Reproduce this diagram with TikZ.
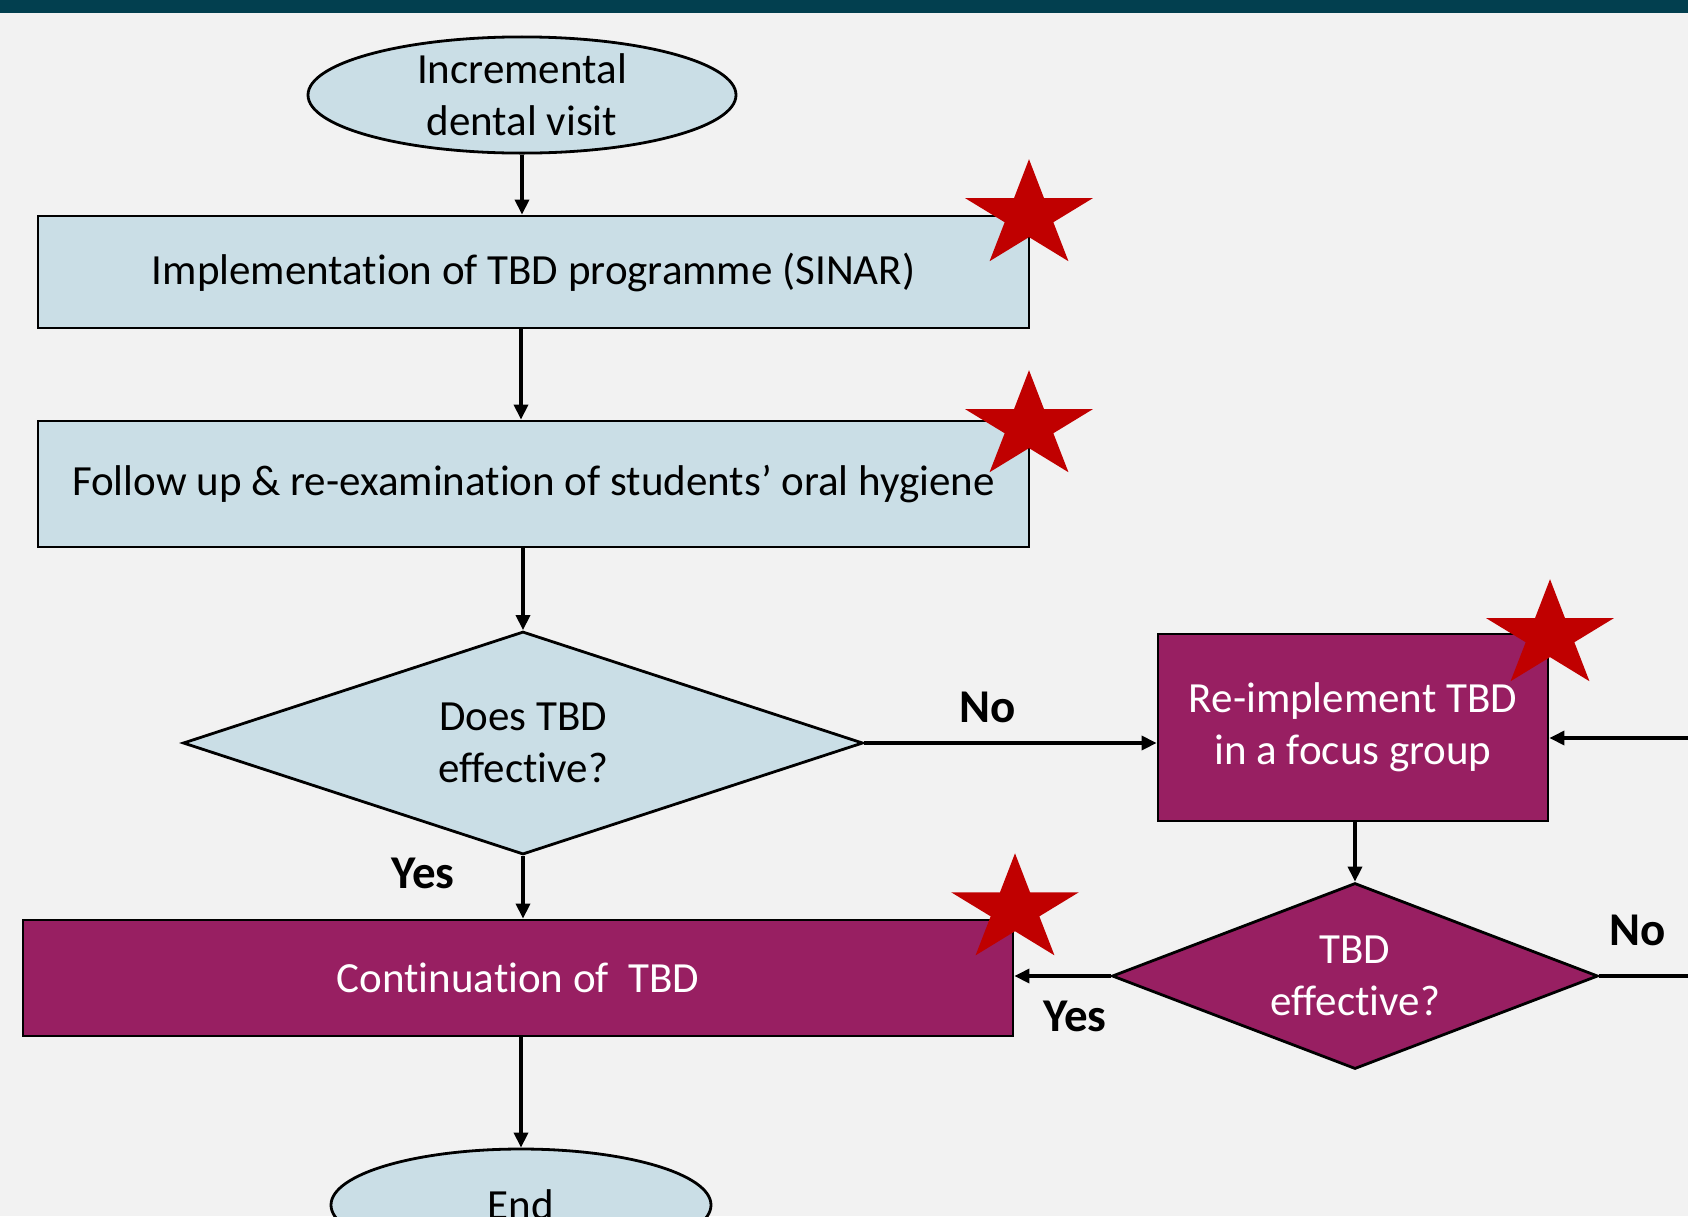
\documentclass[tikz,border=0pt]{standalone}
\usepackage{fontspec}
\setmainfont{Carlito}[Ligatures=NoCommon]
\usetikzlibrary{shapes.geometric,arrows.meta}
\definecolor{bgc}{HTML}{F2F2F2}
\definecolor{barc}{HTML}{023F4F}
\definecolor{lblue}{HTML}{CADEE6}
\definecolor{purp}{HTML}{981F62}
\definecolor{starred}{HTML}{C00000}
\newcommand{\redstar}[1]{%
  \begin{scope}[shift={#1},xscale=1.19]
    \fill[starred] (270:56.4) -- (306:21.5) -- (342:56.4) -- (18:21.5) -- (54:56.4) -- (90:21.5) -- (126:56.4) -- (162:21.5) -- (198:56.4) -- (234:21.5) -- cycle;
  \end{scope}}
\begin{document}
\begin{tikzpicture}[x=1pt,y=-1pt,
  font=\fontsize{43}{52}\selectfont,
  box/.style={draw=black,line width=2.8pt,inner sep=0pt,align=center},
  lbox/.style={box,rectangle,fill=lblue},
  pbox/.style={box,rectangle,fill=purp,text=white},
  lell/.style={box,ellipse,fill=lblue},
  ldia/.style={box,diamond,fill=lblue},
  pdia/.style={box,diamond,fill=purp,text=white},
  arr/.style={-{Triangle[length=15pt,width=14pt]},line width=3.4pt},
  ln/.style={line width=3.4pt},
  lab/.style={font=\fontsize{47}{52}\selectfont\bfseries}]
\useasboundingbox (0,0) rectangle (1688,1216);
\clip (0,0) rectangle (1688,1216);
\fill[bgc] (0,0) rectangle (1688,1216);
\fill[barc] (0,0) rectangle (1688,13);

\node[lell,minimum width=428pt,minimum height=112pt] (e1) at (522,95) {Incremental\\dental visit};
\node[lbox,minimum width=991pt,minimum height=112pt] (b1) at (533.5,272) {Implementation of TBD programme (SINAR)};
\node[lbox,minimum width=991pt,minimum height=126pt] (b2) at (533.5,484) {Follow up \& re-examination of students’ oral hygiene};
\node[ldia,minimum width=680pt,minimum height=223pt,aspect=3.05] (d1) at (523,743) {Does TBD\\effective?};
\node[pbox,minimum width=390pt,minimum height=187pt] (b3) at (1353,727.5) {Re-implement TBD\\in a focus group};
\node[pdia,minimum width=486pt,minimum height=186pt,aspect=2.6] (d2) at (1355,976) {TBD\\effective?};
\node[pbox,minimum width=990pt,minimum height=116pt] (b4) at (518,978) {Continuation of\ \ TBD};
\node[lell,minimum width=380pt,minimum height=112pt] (e2) at (521,1205) {End};

\coordinate (rin) at (1700,738);
\coordinate (rout) at (1700,977);

\draw[arr] (e1.south) -- (e1.south |- b1.north);
\draw[arr] (b1.south -| e2.north) -- (b2.north -| e2.north);
\draw[arr] (b2.south -| d1.north) -- (d1.north);
\draw[arr] (d1.east) -- (d1.east -| b3.west);
\draw[arr] (rin) -- (rin -| b3.east);
\draw[arr] (b3.south -| d2.north) -- (d2.north);
\draw[ln] (d2.east) -- (d2.east -| rout);
\draw[arr] (d2.west) -- (d2.west -| b4.east);
\draw[arr] (d1.south) -- (d1.south |- b4.north);
\draw[arr] (b4.south -| e2.north) -- (e2.north);

\node[lab] (no1) at (988,707) {No};
\node[lab] (no2) at (1638,930) {No};
\node[lab] (yes1) at (423,873) {Yes};
\node[lab] (yes2) at (1075,1016) {Yes};

\redstar{(1029,215.6)}
\redstar{(1029,426.6)}
\redstar{(1550,635.6)}
\redstar{(1015,909.7)}
\end{tikzpicture}
\end{document}
